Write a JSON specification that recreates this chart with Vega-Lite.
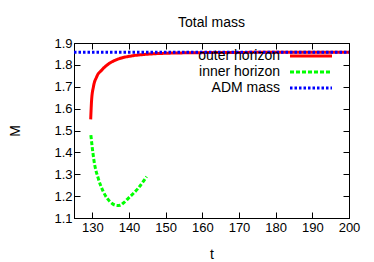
{
  "$schema": "https://vega.github.io/schema/vega-lite/v6.json",
  "autosize": "none",
  "width": 275,
  "height": 175,
  "padding": {"left": 74, "top": 43, "right": 25, "bottom": 44},
  "background": "white",
  "config": {
    "font": "Liberation Sans",
    "view": {"stroke": "black", "strokeWidth": 1},
    "axis": {"labelFont": "Liberation Sans", "titleFont": "Liberation Sans", "labelFontSize": 13, "titleFontSize": 14, "titleFontWeight": "normal", "labelColor": "black", "titleColor": "black", "domainColor": "black", "tickColor": "black", "grid": false, "tickSize": -6, "tickWidth": 1, "labelFlush": false, "labelOverlap": false}
  },
  "title": {"text": "Total mass", "fontSize": 14, "fontWeight": "normal", "font": "Liberation Sans", "color": "black", "offset": 7},
  "data": {"values": [
    {"series": "outer horizon", "t": 129.55, "M": 1.551},
    {"series": "outer horizon", "t": 129.65, "M": 1.59},
    {"series": "outer horizon", "t": 129.8, "M": 1.639},
    {"series": "outer horizon", "t": 130.3, "M": 1.700},
    {"series": "outer horizon", "t": 131.2, "M": 1.746},
    {"series": "outer horizon", "t": 132.6, "M": 1.777},
    {"series": "outer horizon", "t": 134.4, "M": 1.804},
    {"series": "outer horizon", "t": 137.1, "M": 1.827},
    {"series": "outer horizon", "t": 140.7, "M": 1.841},
    {"series": "outer horizon", "t": 144.4, "M": 1.848},
    {"series": "outer horizon", "t": 147.1, "M": 1.851},
    {"series": "outer horizon", "t": 150, "M": 1.853},
    {"series": "outer horizon", "t": 155, "M": 1.855},
    {"series": "outer horizon", "t": 160, "M": 1.856},
    {"series": "outer horizon", "t": 170, "M": 1.857},
    {"series": "outer horizon", "t": 185, "M": 1.8575},
    {"series": "outer horizon", "t": 200, "M": 1.858},
    {"series": "inner horizon", "t": 129.6, "M": 1.479},
    {"series": "inner horizon", "t": 130.0, "M": 1.419},
    {"series": "inner horizon", "t": 130.5, "M": 1.357},
    {"series": "inner horizon", "t": 131.6, "M": 1.282},
    {"series": "inner horizon", "t": 133.0, "M": 1.220},
    {"series": "inner horizon", "t": 134.8, "M": 1.175},
    {"series": "inner horizon", "t": 136.8, "M": 1.157},
    {"series": "inner horizon", "t": 137.6, "M": 1.158},
    {"series": "inner horizon", "t": 138.3, "M": 1.166},
    {"series": "inner horizon", "t": 139.8, "M": 1.190},
    {"series": "inner horizon", "t": 142.5, "M": 1.236},
    {"series": "inner horizon", "t": 144.8, "M": 1.289},
    {"series": "ADM mass", "t": 125, "M": 1.8575},
    {"series": "ADM mass", "t": 200, "M": 1.8575}
  ]},
  "layer": [
    {
      "mark": {"type": "line", "strokeWidth": 3, "interpolate": "monotone", "clip": true},
      "encoding": {
        "x": {"field": "t", "type": "quantitative", "scale": {"domain": [125, 200], "nice": false, "zero": false}, "axis": {"values": [130, 140, 150, 160, 170, 180, 190, 200], "title": "t", "labelPadding": 9, "titlePadding": 13}},
        "y": {"field": "M", "type": "quantitative", "scale": {"domain": [1.1, 1.9], "nice": false, "zero": false}, "axis": {"values": [1.1, 1.2, 1.3, 1.4, 1.5, 1.6, 1.7, 1.8, 1.9], "format": ".1f", "title": "M", "labelPadding": 8, "titlePadding": 31}},
        "color": {"field": "series", "type": "nominal", "scale": {"domain": ["outer horizon", "inner horizon", "ADM mass"], "range": ["#ff0000", "#00ff00", "#0000ff"]},
          "legend": {"title": null, "orient": "none", "legendX": 228.5, "legendY": 4.5, "padding": 0, "symbolType": "M-3,0H3", "symbolSize": 196, "symbolStrokeWidth": 3, "labelAlign": "right", "labelOffset": -39.5, "labelFontSize": 14, "labelFont": "Liberation Sans", "labelColor": "black", "rowPadding": 0, "labelLimit": 300}},
        "strokeDash": {"field": "series", "type": "nominal", "scale": {"domain": ["outer horizon", "inner horizon", "ADM mass"], "range": [[1, 0], [4, 2], [2.5, 2]]}},
        "order": {"field": "t", "type": "quantitative"}
      }
    },
    {
      "mark": {"type": "point", "opacity": 0},
      "encoding": {
        "x": {"field": "t", "type": "quantitative", "axis": {"orient": "top", "values": [130, 140, 150, 160, 170, 180, 190, 200], "labels": false, "title": null}},
        "y": {"field": "M", "type": "quantitative", "axis": {"orient": "right", "values": [1.1, 1.2, 1.3, 1.4, 1.5, 1.6, 1.7, 1.8, 1.9], "labels": false, "title": null}}
      }
    }
  ],
  "resolve": {"axis": {"x": "independent", "y": "independent"}}
}
